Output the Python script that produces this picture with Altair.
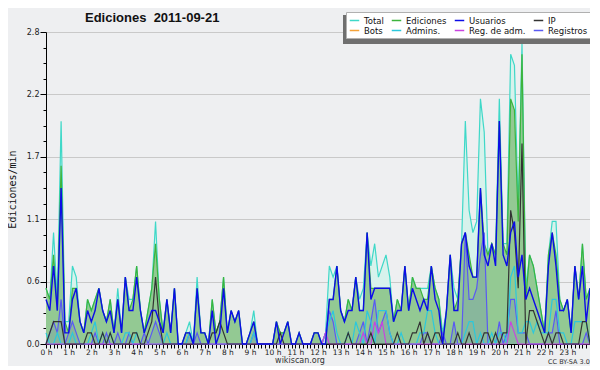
import altair as alt
import pandas as pd

# 10-minute samples, 0:00 .. 24:00 (145 points), edits per minute
total = [
    0.5, 0.4, 1.0, 0.4, 2.0, 0.2,
    0.2, 0.7, 0.6, 0.2, 0.1, 0.4,
    0.3, 0.4, 0.5, 0.3, 0.2, 0.4,
    0.1, 0.5, 0.1, 0.6, 0.4, 0.4,
    0.7, 0.3, 0.1, 0.3, 0.5, 1.1,
    0.4, 0.1, 0.4, 0.1, 0.5, 0.0,
    0.0, 0.1, 0.2, 0.0, 0.6, 0.1,
    0.1, 0.0, 0.4, 0.1, 0.2, 0.6,
    0.1, 0.3, 0.2, 0.3, 0.0, 0.0,
    0.1, 0.3, 0.0, 0.0, 0.0, 0.0,
    0.0, 0.2, 0.1, 0.1, 0.2, 0.0,
    0.0, 0.1, 0.0, 0.0, 0.0, 0.1,
    0.1, 0.0, 0.1, 0.7, 0.6, 0.7,
    0.3, 0.2, 0.4, 0.3, 0.6, 0.4,
    0.5, 1.0, 0.7, 0.9, 0.6, 0.7,
    0.8, 0.6, 0.2, 0.4, 0.3, 0.7,
    0.3, 0.6, 0.5, 0.5, 0.5, 0.5,
    0.7, 0.5, 0.4, 0.1, 0.3, 0.8,
    0.5, 0.4, 0.9, 2.0, 1.2, 1.0,
    1.1, 2.2, 1.9, 0.8, 0.9, 0.8,
    2.2, 0.9, 0.9, 2.6, 2.5, 1.2,
    2.7, 0.5, 0.8, 0.7, 0.5, 0.3,
    0.1, 0.8, 1.1, 1.1, 0.4, 0.3,
    0.4, 0.1, 0.7, 0.4, 0.9, 0.4,
    0.5,
]
ediciones = [
    0.5, 0.4, 0.8, 0.3, 1.6, 0.2,
    0.1, 0.5, 0.5, 0.2, 0.1, 0.4,
    0.3, 0.4, 0.5, 0.3, 0.2, 0.4,
    0.1, 0.4, 0.1, 0.6, 0.3, 0.4,
    0.7, 0.3, 0.1, 0.3, 0.5, 0.9,
    0.4, 0.1, 0.4, 0.1, 0.5, 0.0,
    0.0, 0.1, 0.1, 0.0, 0.5, 0.1,
    0.1, 0.0, 0.4, 0.1, 0.2, 0.6,
    0.1, 0.3, 0.2, 0.3, 0.0, 0.0,
    0.1, 0.2, 0.0, 0.0, 0.0, 0.0,
    0.0, 0.2, 0.1, 0.1, 0.2, 0.0,
    0.0, 0.1, 0.0, 0.0, 0.0, 0.1,
    0.1, 0.0, 0.0, 0.4, 0.4, 0.7,
    0.3, 0.2, 0.4, 0.3, 0.6, 0.3,
    0.3, 1.0, 0.5, 0.5, 0.5, 0.5,
    0.5, 0.5, 0.2, 0.4, 0.3, 0.7,
    0.3, 0.6, 0.5, 0.5, 0.4, 0.4,
    0.7, 0.5, 0.4, 0.0, 0.3, 0.8,
    0.3, 0.4, 0.9, 1.0, 0.8, 0.6,
    0.6, 1.4, 0.9, 0.8, 0.9, 0.8,
    2.0, 0.9, 0.8, 2.2, 2.1, 1.1,
    2.6, 0.4, 0.8, 0.7, 0.5, 0.3,
    0.1, 0.8, 1.0, 0.8, 0.4, 0.3,
    0.4, 0.1, 0.7, 0.4, 0.9, 0.4,
    0.5,
]
usuarios = [
    0.4, 0.3, 0.7, 0.3, 1.4, 0.1,
    0.1, 0.4, 0.5, 0.2, 0.1, 0.3,
    0.2, 0.3, 0.5, 0.3, 0.2, 0.3,
    0.1, 0.4, 0.1, 0.6, 0.3, 0.3,
    0.6, 0.3, 0.1, 0.2, 0.3, 0.3,
    0.2, 0.1, 0.4, 0.1, 0.5, 0.0,
    0.0, 0.1, 0.1, 0.0, 0.5, 0.1,
    0.1, 0.0, 0.3, 0.0, 0.1, 0.5,
    0.1, 0.3, 0.2, 0.3, 0.0, 0.0,
    0.1, 0.2, 0.0, 0.0, 0.0, 0.0,
    0.0, 0.2, 0.0, 0.1, 0.2, 0.0,
    0.0, 0.1, 0.0, 0.0, 0.0, 0.1,
    0.1, 0.0, 0.0, 0.4, 0.4, 0.7,
    0.3, 0.2, 0.3, 0.3, 0.6, 0.3,
    0.3, 1.0, 0.4, 0.5, 0.5, 0.5,
    0.5, 0.5, 0.2, 0.3, 0.3, 0.7,
    0.3, 0.5, 0.4, 0.3, 0.4, 0.3,
    0.7, 0.4, 0.3, 0.0, 0.3, 0.8,
    0.3, 0.3, 0.9, 1.0, 0.7, 0.6,
    0.6, 1.4, 0.8, 0.7, 0.9, 0.7,
    2.0, 0.8, 0.7, 1.0, 1.1, 0.6,
    0.8, 0.4, 0.5, 0.4, 0.3, 0.2,
    0.1, 0.7, 1.0, 0.7, 0.3, 0.3,
    0.4, 0.1, 0.7, 0.4, 0.7, 0.2,
    0.5,
]
ip = [
    0.0, 0.1, 0.2, 0.2, 0.2, 0.0,
    0.0, 0.0, 0.0, 0.0, 0.0, 0.1,
    0.1, 0.0, 0.0, 0.1, 0.0, 0.1,
    0.0, 0.0, 0.0, 0.0, 0.0, 0.1,
    0.1, 0.0, 0.0, 0.1, 0.2, 0.6,
    0.2, 0.0, 0.0, 0.0, 0.0, 0.0,
    0.0, 0.0, 0.0, 0.0, 0.0, 0.0,
    0.0, 0.0, 0.1, 0.1, 0.2, 0.1,
    0.0, 0.0, 0.0, 0.0, 0.0, 0.0,
    0.0, 0.0, 0.0, 0.0, 0.0, 0.0,
    0.0, 0.0, 0.1, 0.0, 0.0, 0.0,
    0.0, 0.0, 0.0, 0.0, 0.0, 0.0,
    0.0, 0.0, 0.0, 0.0, 0.0, 0.0,
    0.0, 0.0, 0.1, 0.0, 0.0, 0.0,
    0.0, 0.0, 0.1, 0.0, 0.0, 0.0,
    0.0, 0.0, 0.0, 0.1, 0.0, 0.0,
    0.0, 0.1, 0.1, 0.2, 0.0, 0.1,
    0.0, 0.1, 0.1, 0.0, 0.0, 0.0,
    0.0, 0.1, 0.0, 0.0, 0.1, 0.0,
    0.0, 0.0, 0.1, 0.1, 0.0, 0.1,
    0.0, 0.1, 0.1, 1.2, 1.0, 0.5,
    1.8, 0.0, 0.3, 0.3, 0.2, 0.1,
    0.0, 0.1, 0.0, 0.1, 0.1, 0.0,
    0.0, 0.0, 0.0, 0.0, 0.2, 0.2,
    0.0,
]
admins = [
    0.1, 0.0, 0.0, 0.1, 0.0, 0.0,
    0.0, 0.1, 0.0, 0.0, 0.0, 0.0,
    0.1, 0.2, 0.0, 0.1, 0.0, 0.1,
    0.0, 0.0, 0.0, 0.1, 0.1, 0.0,
    0.1, 0.0, 0.0, 0.0, 0.0, 0.0,
    0.0, 0.0, 0.1, 0.0, 0.0, 0.0,
    0.0, 0.0, 0.1, 0.0, 0.0, 0.0,
    0.0, 0.0, 0.0, 0.0, 0.0, 0.0,
    0.0, 0.0, 0.0, 0.0, 0.0, 0.0,
    0.0, 0.1, 0.0, 0.0, 0.0, 0.0,
    0.0, 0.0, 0.0, 0.0, 0.0, 0.0,
    0.0, 0.0, 0.0, 0.0, 0.0, 0.0,
    0.0, 0.0, 0.1, 0.2, 0.3, 0.1,
    0.0, 0.0, 0.1, 0.0, 0.2, 0.1,
    0.0, 0.3, 0.2, 0.0, 0.3, 0.3,
    0.3, 0.1, 0.0, 0.0, 0.1, 0.0,
    0.0, 0.0, 0.0, 0.1, 0.1, 0.3,
    0.3, 0.1, 0.0, 0.0, 0.0, 0.0,
    0.0, 0.0, 0.0, 0.1, 0.2, 0.2,
    0.0, 0.1, 0.0, 0.0, 0.1, 0.0,
    0.1, 0.1, 0.0, 0.6, 0.7, 0.1,
    0.1, 0.2, 0.2, 0.1, 0.2, 0.1,
    0.1, 0.1, 0.4, 0.4, 0.1, 0.1,
    0.0, 0.0, 0.2, 0.2, 0.2, 0.2,
    0.0,
]
reg_adm = [
    0.0, 0.0, 0.0, 0.0, 0.0, 0.0,
    0.0, 0.0, 0.0, 0.0, 0.0, 0.0,
    0.0, 0.0, 0.0, 0.0, 0.0, 0.0,
    0.0, 0.0, 0.0, 0.0, 0.0, 0.0,
    0.0, 0.0, 0.0, 0.0, 0.0, 0.0,
    0.0, 0.0, 0.0, 0.0, 0.0, 0.0,
    0.0, 0.0, 0.0, 0.0, 0.0, 0.0,
    0.0, 0.0, 0.0, 0.0, 0.0, 0.0,
    0.0, 0.0, 0.0, 0.0, 0.0, 0.0,
    0.0, 0.0, 0.0, 0.0, 0.0, 0.0,
    0.0, 0.0, 0.0, 0.0, 0.0, 0.0,
    0.0, 0.0, 0.0, 0.0, 0.0, 0.0,
    0.0, 0.0, 0.1, 0.0, 0.0, 0.0,
    0.0, 0.0, 0.0, 0.0, 0.0, 0.0,
    0.1, 0.0, 0.0, 0.2, 0.1, 0.2,
    0.0, 0.0, 0.0, 0.0, 0.0, 0.0,
    0.0, 0.0, 0.0, 0.0, 0.0, 0.0,
    0.0, 0.0, 0.0, 0.0, 0.0, 0.0,
    0.0, 0.0, 0.0, 0.0, 0.0, 0.0,
    0.0, 0.0, 0.0, 0.0, 0.0, 0.0,
    0.0, 0.0, 0.0, 0.2, 0.1, 0.0,
    0.0, 0.0, 0.0, 0.0, 0.0, 0.0,
    0.0, 0.0, 0.0, 0.0, 0.0, 0.0,
    0.0, 0.0, 0.0, 0.0, 0.0, 0.0,
    0.0,
]
registros = [
    0.0, 0.1, 0.2, 0.1, 0.4, 0.0,
    0.1, 0.2, 0.1, 0.0, 0.0, 0.0,
    0.0, 0.1, 0.0, 0.0, 0.1, 0.0,
    0.0, 0.1, 0.0, 0.0, 0.1, 0.0,
    0.0, 0.0, 0.1, 0.0, 0.1, 0.2,
    0.1, 0.0, 0.0, 0.0, 0.0, 0.0,
    0.0, 0.0, 0.1, 0.0, 0.1, 0.0,
    0.0, 0.0, 0.0, 0.0, 0.0, 0.0,
    0.0, 0.0, 0.0, 0.0, 0.0, 0.0,
    0.0, 0.1, 0.0, 0.0, 0.0, 0.0,
    0.0, 0.0, 0.0, 0.0, 0.0, 0.0,
    0.0, 0.0, 0.0, 0.0, 0.0, 0.0,
    0.0, 0.0, 0.1, 0.3, 0.2, 0.0,
    0.0, 0.0, 0.0, 0.0, 0.0, 0.1,
    0.2, 0.0, 0.2, 0.4, 0.1, 0.2,
    0.3, 0.1, 0.0, 0.0, 0.0, 0.0,
    0.0, 0.0, 0.0, 0.0, 0.1, 0.1,
    0.0, 0.0, 0.0, 0.1, 0.0, 0.0,
    0.2, 0.0, 0.0, 1.0, 0.4, 0.4,
    0.5, 0.8, 1.0, 0.0, 0.0, 0.0,
    0.2, 0.0, 0.1, 0.4, 0.4, 0.1,
    0.1, 0.1, 0.0, 0.0, 0.0, 0.0,
    0.0, 0.1, 0.1, 0.3, 0.0, 0.0,
    0.0, 0.0, 0.0, 0.0, 0.0, 0.1,
    0.0,
]

series_names = ["Total", "Ediciones", "Usuarios", "IP", "Bots",
                "Admins.", "Reg. de adm.", "Registros"]
series_colors = ["#3fd8c8", "#3cb43c", "#0c0ce8", "#333333", "#f5a33a",
                 "#2cc8dc", "#c844e0", "#5a5af2"]

series_values = {
    "Total": total,
    "Ediciones": ediciones,
    "Usuarios": usuarios,
    "IP": ip,
    "Admins.": admins,
    "Reg. de adm.": reg_adm,
    "Registros": registros,
}

rows = []
for name, vals in series_values.items():
    for i, v in enumerate(vals):
        rows.append({"t": i / 6, "serie": name, "v": v})
df = pd.DataFrame(rows)

x_ticks = [i / 6 for i in range(145)]
y_ticks = [round(k * 0.14, 2) for k in range(21)]
major_test = "abs(datum.value / 0.56 - round(datum.value / 0.56)) < 0.01"

x_enc = alt.X(
    "t:Q",
    scale=alt.Scale(domain=[0, 24], nice=False, zero=False),
    axis=alt.Axis(
        values=x_ticks,
        labelExpr="(abs(datum.value - round(datum.value)) < 0.001 && datum.value < 23.9) ? round(datum.value) + ' h' : ''",
        labelOverlap=False,
        labelFlush=False,
        labelBound=False,
        tickSize=4,
        labelPadding=0,
        labelFontSize=7.5,
        grid=False,
        title=None,
    ),
)
y_enc = alt.Y(
    "v:Q",
    scale=alt.Scale(domain=[0, 2.8], nice=False),
    axis=alt.Axis(
        values=y_ticks,
        labelExpr=f"({major_test}) ? format(datum.value, '.1f') : ''",
        labelOverlap=False,
        labelFlush=False,
        tickSize={"condition": {"test": major_test, "value": 6}, "value": 3},
        gridOpacity={"condition": {"test": major_test, "value": 1}, "value": 0},
        grid=True,
        labelPadding=1,
        title="Ediciones/min",
        titleFont="DejaVu Sans Mono",
        titleFontSize=10,
        titleFontWeight="normal",
        titleColor="#111111",
        titleX=-34,
        titleY=157,
        titleAlign="center",
        titleBaseline="middle",
    ),
)

legend = alt.Legend(
    title=None,
    orient="none",
    legendX=300,
    legendY=-20,
    direction="horizontal",
    columns=4,
    symbolType="stroke",
    symbolSize=90,
    symbolStrokeWidth=1.5,
    labelFont="DejaVu Sans",
    labelFontSize=8.5,
    labelColor="#111111",
    labelOffset=4,
    fillColor="#ffffff",
    strokeColor="#b0b0b0",
    padding=3,
    rowPadding=0,
    columnPadding=4,
)
color_enc = alt.Color(
    "serie:N",
    scale=alt.Scale(domain=series_names, range=series_colors),
    legend=legend,
)

base = alt.Chart(df)


def only(name):
    return base.transform_filter(alt.datum.serie == name)


area_total = only("Total").mark_area(color="#d7f2ec").encode(x=x_enc, y=y_enc)
area_ed = only("Ediciones").mark_area(color="#93c993").encode(x=x_enc, y=y_enc)
area_reg = only("Registros").mark_area(color="#3a3ae0", opacity=0.12).encode(x=x_enc, y=y_enc)

line_layers = []
for name in ["Total", "Ediciones", "Registros", "Admins.", "Reg. de adm.", "IP", "Usuarios"]:
    sw = 1.4 if name == "Usuarios" else 1.2
    line_layers.append(
        only(name).mark_line(strokeWidth=sw).encode(x=x_enc, y=y_enc, color=color_enc)
    )

one = pd.DataFrame({"k": [0]})
shadow = alt.Chart(one).mark_rect(color="#6f6f6f").encode(
    x=alt.value(297), x2=alt.value(544), y=alt.value(-17), y2=alt.value(12)
)
heading = alt.Chart(pd.DataFrame({"s": ["Ediciones\u00a0 2011-09-21"]})).mark_text(
    font="Liberation Sans", fontSize=13, fontWeight="bold", color="#111111",
    align="left", baseline="alphabetic"
).encode(text="s:N", x=alt.value(39), y=alt.value(-10))
site = alt.Chart(pd.DataFrame({"s": ["wikiscan.org"]})).mark_text(
    font="DejaVu Sans", fontSize=8, color="#333333", baseline="alphabetic"
).encode(text="s:N", x=alt.value(254), y=alt.value(331))
lic = alt.Chart(pd.DataFrame({"s": ["CC BY-SA 3.0"]})).mark_text(
    font="DejaVu Sans", fontSize=6.5, color="#333333", baseline="alphabetic"
).encode(text="s:N", x=alt.value(523), y=alt.value(332))

chart = alt.layer(
    area_total, area_ed, area_reg, *line_layers, shadow, heading, site, lic
).properties(
    width=544,
    height=312,
    padding={"left": 38, "top": 24, "right": 0, "bottom": 22},
    autosize=alt.AutoSizeParams(type="none"),
).configure(
    background="#eeeff1",
).configure_view(
    strokeWidth=0,
).configure_axis(
    domainColor="#000000",
    tickColor="#000000",
    labelColor="#222222",
    labelFont="DejaVu Sans",
    labelFontSize=8,
    gridColor="#c9c9c9",
)

chart.save("out.html", embed_options={"renderer": "svg", "actions": False})
